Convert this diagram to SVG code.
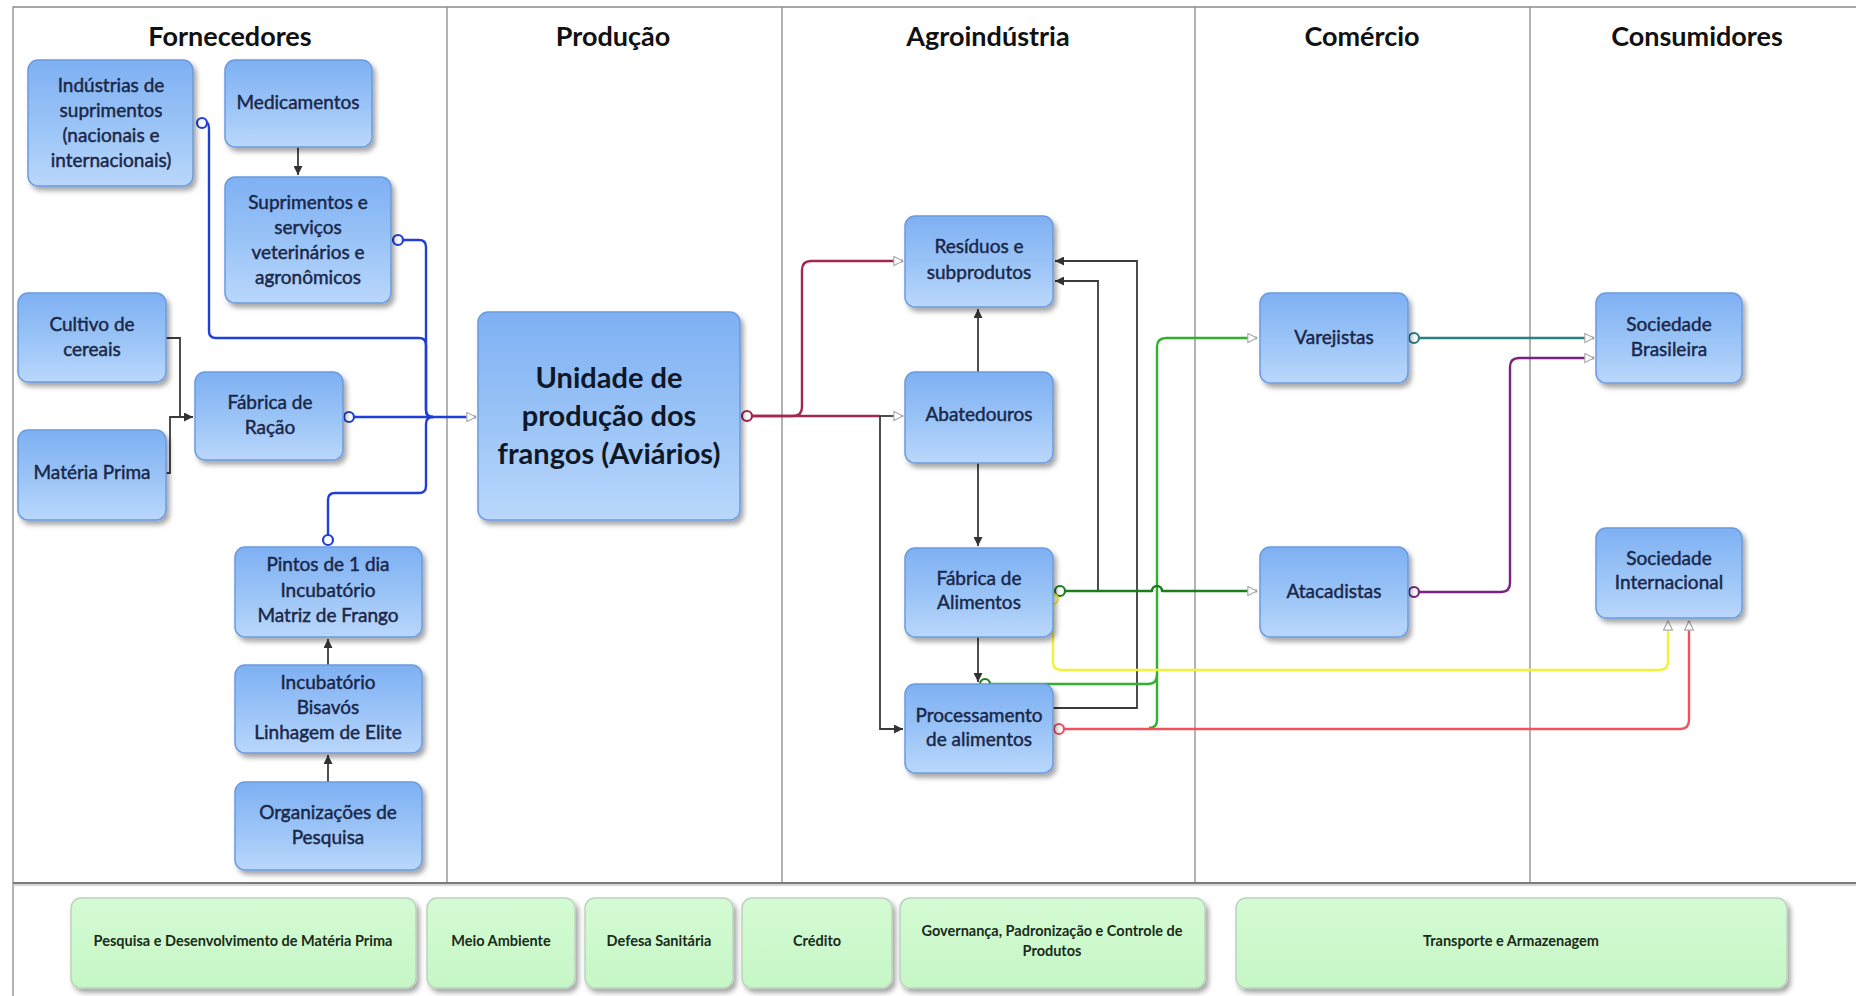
<svg xmlns="http://www.w3.org/2000/svg" width="1856" height="996" viewBox="0 0 1856 996">
  <style>
    .frame { stroke: #8a8a8a; stroke-width: 1.3; fill: none; }
    .title { font-family: Lato, "Liberation Sans", sans-serif; font-weight: bold; font-size: 27px; fill: #111; text-anchor: middle; }
    .node rect { fill: url(#gBlue); stroke: #6a9be0; stroke-width: 1.5; filter: url(#shadow); }
    .node text { font-family: Lato, "Liberation Sans", sans-serif; font-size: 19px; fill: #1a2748; stroke: #1a2748; stroke-width: 0.45; text-anchor: middle; }
    .node text.big { font-size: 29px; font-weight: bold; fill: #101828; stroke: none; }
    .support rect { fill: url(#gGreen); stroke: #bcd4bc; stroke-width: 1.5; filter: url(#shadow); }
    .support text { font-family: Lato, "Liberation Sans", sans-serif; font-size: 14.5px; font-weight: bold; fill: #1a2a1a; text-anchor: middle; }
    .c { fill: none; stroke-width: 2.4; stroke-linejoin: round; }
    .blk { stroke: #3a3a3a; stroke-width: 1.8; fill: none; }
    .blue { stroke: #1f3fd6; }
    .wine { stroke: #a2284f; }
    .green { stroke: #2fb12f; }
    .dgreen { stroke: #1d7d1d; }
    .yellow { stroke: #f2f23a; }
    .red { stroke: #f2505e; }
    .teal { stroke: #2b8080; }
    .purple { stroke: #7a2182; }
    .dot { fill: #fff; stroke-width: 2.2; }
  </style>
  <defs>
    <linearGradient id="gBlue" x1="0" y1="0" x2="0" y2="1">
      <stop offset="0" stop-color="#7eb0f3"/>
      <stop offset="0.55" stop-color="#9cc5f7"/>
      <stop offset="1" stop-color="#bad7fb"/>
    </linearGradient>
    <linearGradient id="gGreen" x1="0" y1="0" x2="0" y2="1">
      <stop offset="0" stop-color="#d4fbd4"/>
      <stop offset="1" stop-color="#c6f6c6"/>
    </linearGradient>
    <filter id="shadow" x="-10%" y="-10%" width="125%" height="130%">
      <feDropShadow dx="3" dy="4" stdDeviation="2.5" flood-color="#000" flood-opacity="0.35"/>
    </filter>
    <marker id="aBlk" viewBox="0 0 10 10" refX="10" refY="5" markerWidth="9" markerHeight="9" markerUnits="userSpaceOnUse" orient="auto">
      <path d="M0,0 L10,5 L0,10 z" fill="#333"/>
    </marker>
    <marker id="aOpen" viewBox="0 0 12 12" refX="11" refY="6" markerWidth="11" markerHeight="11" markerUnits="userSpaceOnUse" orient="auto">
      <path d="M1,1 L11,6 L1,11 z" fill="#fff" stroke="#a8a8a8" stroke-width="1.2"/>
    </marker>
  </defs>

  <rect width="1856" height="996" fill="#fff"/>

  <!-- swimlane frame -->
  <g id="lanes">
    <path class="frame" d="M13,996 V7 H1856"/>
    <path class="frame" d="M447,7 V883 M782,7 V883 M1195,7 V883 M1530,7 V883"/>
    <path d="M13,883 H1856" stroke="#7a7a7a" stroke-width="2"/>
    <path d="M13,885 H1856" stroke="#c8c8c8" stroke-width="1.5"/>
    <text class="title" x="230" y="46">Fornecedores</text>
    <text class="title" x="613" y="46">Produção</text>
    <text class="title" x="988" y="46">Agroindústria</text>
    <text class="title" x="1362" y="46">Comércio</text>
    <text class="title" x="1697" y="46">Consumidores</text>
  </g>

  <!-- connectors -->
  <g id="connectors">
    <!-- supplier flows into the poultry unit -->
    <path class="c blue" d="M207,123 Q209,123 209,130 V331 Q209,338 216,338 H419 Q426,338 426,345 V410 Q426,417 433,417"/>
    <path class="c blue" d="M403,240 H419 Q426,240 426,247 V410 Q426,417 433,417"/>
    <path class="c blue" d="M328,535 V500 Q328,493 335,493 H419 Q426,493 426,486 V424 Q426,417 433,417"/>
    <path class="c blue" d="M354,417 H476" marker-end="url(#aOpen)"/>
    <circle class="dot blue" cx="202" cy="123" r="5"/>
    <circle class="dot blue" cx="398" cy="240" r="5"/>
    <circle class="dot blue" cx="328" cy="540" r="5"/>
    <circle class="dot blue" cx="349" cy="417" r="5"/>

    <path class="blk" d="M298,147 V175" marker-end="url(#aBlk)"/>
    <path class="blk" d="M166,338 H180 V417 H193" marker-end="url(#aBlk)"/>
    <path class="blk" d="M166,473 H170 V417 H180"/>
    <path class="blk" d="M328,665 V639" marker-end="url(#aBlk)"/>
    <path class="blk" d="M328,782 V755" marker-end="url(#aBlk)"/>

    <!-- poultry unit to agroindustry -->
    <path class="c wine" d="M752,416 H793 Q802,416 802,407 V270 Q802,261 811,261 H903" marker-end="url(#aOpen)"/>
    <path class="c wine" d="M752,416 H880"/>
    <path class="blk" d="M880,416 H903" marker-end="url(#aOpen)"/>
    <path class="blk" d="M880,416 V729 H903" marker-end="url(#aBlk)"/>
    <circle class="dot wine" cx="747" cy="416" r="5"/>

    <path class="blk" d="M978,372 V309" marker-end="url(#aBlk)"/>
    <path class="blk" d="M978,463 V546" marker-end="url(#aBlk)"/>
    <path class="blk" d="M978,637 V682" marker-end="url(#aBlk)"/>
    <path class="blk" d="M1053,708 H1137 V261 H1055" marker-end="url(#aBlk)"/>
    <path class="blk" d="M1098,591 V281 H1055" marker-end="url(#aBlk)"/>

    <!-- agroindustry to trade -->
    <path class="c green" d="M990,684 H1148 Q1157,684 1157,675 V347 Q1157,338 1166,338 H1257" marker-end="url(#aOpen)"/>
    <path class="c green" d="M1157,675 V720 Q1157,728 1149,728"/>
    <path class="c dgreen" d="M1065,591 H1152 A5,5 0 0 1 1162,591 H1257" marker-end="url(#aOpen)"/>
    <circle class="dot dgreen" cx="1060" cy="591" r="5"/>
    <circle class="dot dgreen" cx="985" cy="684" r="5"/>

    <path class="c yellow" d="M1053,604 V662 Q1053,670 1061,670 H1659 Q1668,670 1668,661 V621" marker-end="url(#aOpen)"/>
    <circle class="dot yellow" cx="1053" cy="599" r="5"/>

    <path class="c red" d="M1064,729 H1680 Q1689,729 1689,720 V621" marker-end="url(#aOpen)"/>
    <circle class="dot red" cx="1059" cy="729" r="5"/>

    <!-- trade to consumers -->
    <path class="c teal" d="M1419,338 H1594" marker-end="url(#aOpen)"/>
    <circle class="dot teal" cx="1414" cy="338" r="5"/>
    <path class="c purple" d="M1419,592 H1501 Q1510,592 1510,583 V367 Q1510,358 1519,358 H1594" marker-end="url(#aOpen)"/>
    <circle class="dot purple" cx="1414" cy="592" r="5"/>
  </g>

  <!-- Fornecedores -->
  <g id="n-industrias" class="node">
    <rect x="28" y="60" width="165" height="126" rx="10"/>
    <text x="111" y="92">Indústrias de</text>
    <text x="111" y="117">suprimentos</text>
    <text x="111" y="142">(nacionais e</text>
    <text x="111" y="167">internacionais)</text>
  </g>
  <g id="n-medicamentos" class="node">
    <rect x="225" y="60" width="147" height="87" rx="10"/>
    <text x="298" y="109">Medicamentos</text>
  </g>
  <g id="n-suprimentos" class="node">
    <rect x="225" y="177" width="166" height="126" rx="10"/>
    <text x="308" y="209">Suprimentos e</text>
    <text x="308" y="234">serviços</text>
    <text x="308" y="259">veterinários e</text>
    <text x="308" y="284">agronômicos</text>
  </g>
  <g id="n-cultivo" class="node">
    <rect x="18" y="293" width="148" height="89" rx="10"/>
    <text x="92" y="331">Cultivo de</text>
    <text x="92" y="356">cereais</text>
  </g>
  <g id="n-materia" class="node">
    <rect x="18" y="430" width="148" height="90" rx="10"/>
    <text x="92" y="479">Matéria Prima</text>
  </g>
  <g id="n-racao" class="node">
    <rect x="195" y="372" width="148" height="88" rx="10"/>
    <text x="270" y="409">Fábrica de</text>
    <text x="270" y="434">Ração</text>
  </g>
  <g id="n-pintos" class="node">
    <rect x="235" y="547" width="187" height="90" rx="10"/>
    <text x="328" y="571">Pintos de 1 dia</text>
    <text x="328" y="597">Incubatório</text>
    <text x="328" y="622">Matriz de Frango</text>
  </g>
  <g id="n-bisavos" class="node">
    <rect x="235" y="665" width="187" height="88" rx="10"/>
    <text x="328" y="689">Incubatório</text>
    <text x="328" y="714">Bisavós</text>
    <text x="328" y="739">Linhagem de Elite</text>
  </g>
  <g id="n-organizacoes" class="node">
    <rect x="235" y="782" width="187" height="88" rx="10"/>
    <text x="328" y="819">Organizações de</text>
    <text x="328" y="844">Pesquisa</text>
  </g>

  <!-- Produção -->
  <g id="n-unidade" class="node">
    <rect x="478" y="312" width="262" height="208" rx="10"/>
    <text class="big" x="609" y="388">Unidade de</text>
    <text class="big" x="609" y="426">produção dos</text>
    <text class="big" x="609" y="464">frangos (Aviários)</text>
  </g>

  <!-- Agroindústria -->
  <g id="n-residuos" class="node">
    <rect x="905" y="216" width="148" height="91" rx="10"/>
    <text x="979" y="253">Resíduos e</text>
    <text x="979" y="279">subprodutos</text>
  </g>
  <g id="n-abatedouros" class="node">
    <rect x="905" y="372" width="148" height="91" rx="10"/>
    <text x="979" y="421">Abatedouros</text>
  </g>
  <g id="n-fabrica-alimentos" class="node">
    <rect x="905" y="548" width="148" height="89" rx="10"/>
    <text x="979" y="585">Fábrica de</text>
    <text x="979" y="609">Alimentos</text>
  </g>
  <g id="n-processamento" class="node">
    <rect x="905" y="684" width="148" height="89" rx="10"/>
    <text x="979" y="722">Processamento</text>
    <text x="979" y="746">de alimentos</text>
  </g>

  <!-- Comércio -->
  <g id="n-varejistas" class="node">
    <rect x="1260" y="293" width="148" height="90" rx="10"/>
    <text x="1334" y="344">Varejistas</text>
  </g>
  <g id="n-atacadistas" class="node">
    <rect x="1260" y="547" width="148" height="90" rx="10"/>
    <text x="1334" y="598">Atacadistas</text>
  </g>

  <!-- Consumidores -->
  <g id="n-soc-brasileira" class="node">
    <rect x="1596" y="293" width="146" height="90" rx="10"/>
    <text x="1669" y="331">Sociedade</text>
    <text x="1669" y="356">Brasileira</text>
  </g>
  <g id="n-soc-internacional" class="node">
    <rect x="1596" y="528" width="146" height="90" rx="10"/>
    <text x="1669" y="565">Sociedade</text>
    <text x="1669" y="589">Internacional</text>
  </g>

  <!-- supporting areas -->
  <g id="s-pesquisa" class="support">
    <rect x="71" y="898" width="345" height="90" rx="10"/>
    <text x="243" y="946">Pesquisa e Desenvolvimento de Matéria Prima</text>
  </g>
  <g id="s-meio-ambiente" class="support">
    <rect x="427" y="898" width="148" height="90" rx="10"/>
    <text x="501" y="946">Meio Ambiente</text>
  </g>
  <g id="s-defesa" class="support">
    <rect x="585" y="898" width="148" height="90" rx="10"/>
    <text x="659" y="946">Defesa Sanitária</text>
  </g>
  <g id="s-credito" class="support">
    <rect x="742" y="898" width="150" height="90" rx="10"/>
    <text x="817" y="946">Crédito</text>
  </g>
  <g id="s-governanca" class="support">
    <rect x="900" y="898" width="305" height="90" rx="10"/>
    <text x="1052" y="936">Governança, Padronização e Controle de</text>
    <text x="1052" y="956">Produtos</text>
  </g>
  <g id="s-transporte" class="support">
    <rect x="1236" y="898" width="551" height="90" rx="10"/>
    <text x="1511" y="946">Transporte e Armazenagem</text>
  </g>
</svg>
